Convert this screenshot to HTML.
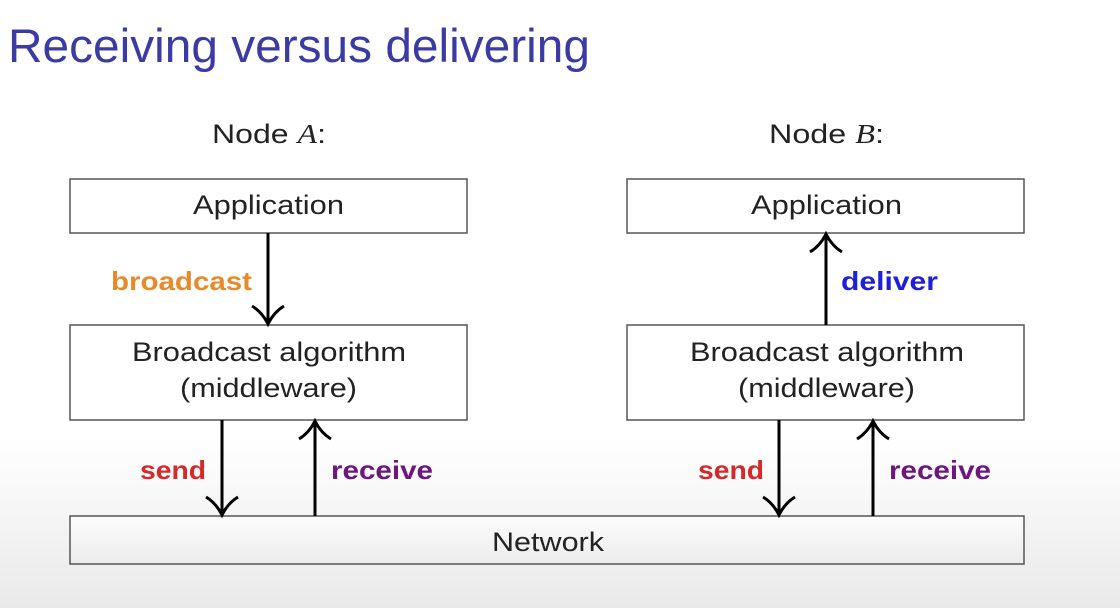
<!DOCTYPE html>
<html><head><meta charset="utf-8"><style>
html,body{margin:0;padding:0;}
body{width:1120px;height:608px;overflow:hidden;background:linear-gradient(#ffffff 0%,#ffffff 72%,#e9e9e9 100%);}
svg{display:block;font-family:"Liberation Sans",sans-serif;}
</style></head><body>
<svg width="1120" height="608" viewBox="0 0 1120 608">
<defs>
<linearGradient id="net" x1="0" y1="0" x2="0" y2="1"><stop offset="0" stop-color="#fcfcfc"/><stop offset="1" stop-color="#ececec"/></linearGradient>
</defs>
<text x="8" y="62" font-size="47" fill="#3b3ba3" textLength="582" lengthAdjust="spacingAndGlyphs">Receiving versus delivering</text>
<text x="212" y="143" font-size="27" fill="#222" textLength="114" lengthAdjust="spacingAndGlyphs">Node <tspan font-family="Liberation Serif" font-style="italic">A</tspan>:</text>
<text x="769" y="143" font-size="27" fill="#222" textLength="115" lengthAdjust="spacingAndGlyphs">Node <tspan font-family="Liberation Serif" font-style="italic">B</tspan>:</text>
<g fill="#fff" stroke="#555" stroke-width="1.5">
<rect x="70" y="179" width="397" height="54"/>
<rect x="627" y="179" width="397" height="54"/>
<rect x="70" y="325" width="397" height="95"/>
<rect x="627" y="325" width="397" height="95"/>
<rect x="70" y="516" width="954" height="48" fill="url(#net)"/>
</g>
<g font-size="27" fill="#222" lengthAdjust="spacingAndGlyphs">
<text x="193" y="214" textLength="151" lengthAdjust="spacingAndGlyphs">Application</text>
<text x="751" y="214" textLength="151" lengthAdjust="spacingAndGlyphs">Application</text>
<text x="132" y="361" textLength="274" lengthAdjust="spacingAndGlyphs">Broadcast algorithm</text>
<text x="180" y="397" textLength="177" lengthAdjust="spacingAndGlyphs">(middleware)</text>
<text x="690" y="361" textLength="274" lengthAdjust="spacingAndGlyphs">Broadcast algorithm</text>
<text x="738" y="397" textLength="177" lengthAdjust="spacingAndGlyphs">(middleware)</text>
<text x="492" y="551" textLength="112" lengthAdjust="spacingAndGlyphs">Network</text>
</g>
<g stroke="#000" stroke-width="3" fill="none">
<line x1="268" y1="233" x2="268" y2="323"/><path d="M252 306 Q262 312 268 324 Q274 312 284 306"/>
<line x1="222" y1="420" x2="222" y2="514"/><path d="M206 497 Q216 503 222 515 Q228 503 238 497"/>
<line x1="315" y1="516" x2="315" y2="422"/><path d="M299 439 Q309 433 315 421 Q321 433 331 439"/>
<line x1="826" y1="325" x2="826" y2="235"/><path d="M810 252 Q820 246 826 234 Q832 246 842 252"/>
<line x1="779" y1="420" x2="779" y2="514"/><path d="M763 497 Q773 503 779 515 Q785 503 795 497"/>
<line x1="873" y1="516" x2="873" y2="422"/><path d="M857 439 Q867 433 873 421 Q879 433 889 439"/>
</g>
<g font-size="26" font-weight="bold">
<text x="111" y="290" fill="#e8892a" textLength="141" lengthAdjust="spacingAndGlyphs">broadcast</text>
<text x="841" y="290" fill="#1f1fd6" textLength="97" lengthAdjust="spacingAndGlyphs">deliver</text>
<text x="140" y="479" fill="#d42a2a" textLength="66" lengthAdjust="spacingAndGlyphs">send</text>
<text x="331" y="479" fill="#6e1580" textLength="102" lengthAdjust="spacingAndGlyphs">receive</text>
<text x="698" y="479" fill="#d42a2a" textLength="66" lengthAdjust="spacingAndGlyphs">send</text>
<text x="889" y="479" fill="#6e1580" textLength="102" lengthAdjust="spacingAndGlyphs">receive</text>
</g>
</svg>
</body></html>
